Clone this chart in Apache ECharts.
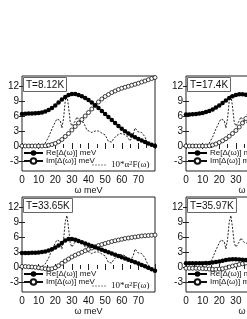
<!DOCTYPE html>
<html><head><meta charset="utf-8">
<script src="https://cdn.jsdelivr.net/npm/echarts@6/dist/echarts.min.js"></script>
<style>html,body{margin:0;padding:0;background:#fff}#c{width:247px;height:319px}</style>
</head><body><div id="c"></div>
<script>
// ---- data ----
const omegaFull = [0,2,4,6,8,10,12,14,16,18,20,22,24,26,28,30,32,34,36,38,40,42,44,46,48,50,52,54,56,58,60,62,64,66,68,70,72,74,76,78,80];
const omegaRight = [0,2,4,6,8,10,12,14,16,18,20,22,24,26,28,30,32,34,36,38,40];

const reT812 = [6.4,6.45,6.5,6.5,6.55,6.6,6.7,6.9,7.2,7.6,8.1,8.7,9.3,9.8,10.2,10.4,10.4,10.2,9.95,9.6,9.2,8.7,8.15,7.6,7.0,6.4,5.8,5.2,4.6,4.0,3.45,2.95,2.5,2.1,1.75,1.4,1.1,0.8,0.5,0.25,0.0];
const imT812 = [0,0,0,0,0,0,0,0.05,0.15,0.3,0.5,0.85,1.3,1.9,2.5,3.2,3.9,4.6,5.3,6.0,6.7,7.4,8.1,8.8,9.4,9.9,10.3,10.7,11.0,11.3,11.55,11.75,11.95,12.15,12.35,12.55,12.8,13.0,13.25,13.5,13.7];

const reT174 = [6.3,6.3,6.35,6.4,6.5,6.6,6.8,7.0,7.3,7.7,8.1,8.6,9.1,9.6,9.95,10.2,10.35,10.35,10.25,10.05,9.8];
const imT174 = [0,0,0,0,0,0,0,0.05,0.2,0.4,0.7,1.05,1.45,1.95,2.5,3.1,3.8,4.6,5.5,6.3,7.0];

const reT3365 = [2.8,2.8,2.8,2.85,2.85,2.9,3.0,3.1,3.3,3.55,3.9,4.3,4.8,5.3,5.6,5.6,5.45,5.2,4.95,4.7,4.45,4.2,3.95,3.7,3.45,3.2,2.95,2.7,2.45,2.2,1.95,1.7,1.45,1.2,0.95,0.7,0.4,0.15,-0.15,-0.45,-0.75];
const imT3365 = [0.1,0.1,0.05,0.0,-0.05,-0.15,-0.25,-0.35,-0.4,-0.35,-0.15,0.25,0.75,1.2,1.6,2.0,2.35,2.65,2.95,3.25,3.55,3.8,4.05,4.3,4.5,4.7,4.9,5.1,5.25,5.4,5.55,5.7,5.8,5.9,6.0,6.1,6.2,6.25,6.3,6.35,6.4];

const reT3597 = [0.75,0.75,0.75,0.75,0.75,0.75,0.8,0.82,0.88,0.98,1.1,1.25,1.4,1.5,1.55,1.55,1.5,1.45,1.4,1.35,1.3];
const imT3597 = [-0.25,-0.25,-0.25,-0.25,-0.28,-0.32,-0.36,-0.4,-0.45,-0.45,-0.4,-0.35,-0.2,0.0,0.2,0.35,0.5,0.65,0.8,0.9,1.0];

const a2fOmega = [10,12,14,16,18,20,21,22,23,24,25,26,27,28,29,30,31,32,33,34,35,36,37,38,39,40,42,44,46,48,50,51,52,53,54,55,57,59,61,63,64,65,66,67,68,69,70,71,72,73,74,75,76,77];
const a2fValues = [0,0.1,0.6,1.8,3.4,4.8,5.4,5.6,5.1,3.6,5.5,9.0,10.3,7.8,4.8,4.0,4.3,5.0,5.8,5.4,4.9,5.0,4.7,4.0,3.2,2.8,2.7,3.0,3.0,2.6,2.2,1.6,0.9,0.5,0.8,1.4,2.1,2.5,2.4,2.0,1.5,1.0,1.3,2.4,3.6,3.4,2.8,2.5,2.7,2.4,1.8,1.0,0.4,0];

const xTickLabels = [0,10,20,30,40,50,60,70];
const yTickLabels = [-3,0,3,6,9,12];
const panelTitles = ['T=8.12K','T=17.4K','T=33.65K','T=35.97K'];
const nameRe = 'Re[Δ(ω)] meV';
const nameIm = 'Im[Δ(ω)] meV';
const nameA2F = '10*α2F(ω)';

// ---- layout ----
const panels = [
  {left:22, top:76, omega:omegaFull, re:reT812, im:imT812},
  {left:186, top:76, omega:omegaRight, re:reT174, im:imT174},
  {left:22, top:197, omega:omegaFull, re:reT3365, im:imT3365},
  {left:186, top:197, omega:omegaRight, re:reT3597, im:imT3597}
];
const W = 133, H = 95;
const font = 'Liberation Sans, Arial, sans-serif';
const ink = '#111';
const dashIcon = 'path://M0,0h4v1.4h-4z M6,0h4v1.4h-4z M12,0h4v1.4h-4z M18,0h4v1.4h-4z M24,0h4v1.4h-4z';

const pairs = (xs, ys) => xs.map((x, i) => [x, ys[i]]);

const grid = [], xAxis = [], yAxis = [], series = [], title = [], legend = [];
panels.forEach((p, i) => {
  grid.push({left:p.left, top:p.top, width:W, height:H, outerBoundsMode:'none', containLabel:false,
    show:true, borderColor:'#222', borderWidth:1, backgroundColor:'transparent'});
  xAxis.push({gridIndex:i, type:'value', min:0, max:80, interval:10, position:'bottom',
    axisLine:{show:false}, splitLine:{show:false},
    axisTick:{inside:true, length:3, lineStyle:{color:'#222'}},
    minorTick:{show:true, splitNumber:2, length:2, lineStyle:{color:'#222'}},
    axisLabel:{customValues:xTickLabels, fontSize:10, color:ink, margin:4, fontFamily:font},
    name:'ω meV', nameLocation:'middle', nameGap:15, nameTextStyle:{fontSize:9, color:ink, fontFamily:font}});
  xAxis.push({gridIndex:i, type:'value', min:0, max:80, interval:10, position:'top',
    axisLine:{show:false}, splitLine:{show:false}, axisLabel:{show:false},
    axisTick:{inside:true, length:3, lineStyle:{color:'#222'}},
    minorTick:{show:true, splitNumber:2, length:2, lineStyle:{color:'#222'}}});
  yAxis.push({gridIndex:i, type:'value', min:-5, max:14, position:'left',
    axisLine:{show:false}, splitLine:{show:false},
    axisTick:{inside:true, length:3, customValues:yTickLabels, lineStyle:{color:'#222'}},
    axisLabel:{customValues:yTickLabels, fontSize:10, color:ink, margin:3, fontFamily:font}});
  yAxis.push({gridIndex:i, type:'value', min:-5, max:14, position:'right',
    axisLine:{show:false}, splitLine:{show:false}, axisLabel:{show:false},
    axisTick:{inside:true, length:3, customValues:yTickLabels, lineStyle:{color:'#222'}}});

  series.push({type:'line', name:nameA2F, xAxisIndex:2*i, yAxisIndex:2*i,
    data:pairs(a2fOmega, a2fValues), symbol:'none', showSymbol:false,
    lineStyle:{type:[2,1.5], width:1, color:'#222'}, itemStyle:{color:'#222'}});
  series.push({type:'line', name:nameIm, xAxisIndex:2*i, yAxisIndex:2*i,
    data:pairs(p.omega, p.im), symbol:'circle', symbolSize:4, showSymbol:true,
    itemStyle:{color:'#fff', borderColor:'#111', borderWidth:0.8},
    lineStyle:{color:'#111', width:0.8}});
  series.push({type:'line', name:nameRe, xAxisIndex:2*i, yAxisIndex:2*i,
    data:pairs(p.omega, p.re), symbol:'circle', symbolSize:4.5, showSymbol:true,
    itemStyle:{color:'#000'}, lineStyle:{color:'#000', width:1.2}});

  title.push({text:panelTitles[i], left:p.left+1, top:p.top+1, padding:[3,3,2,3],
    borderWidth:1, borderColor:'#666', backgroundColor:'#fff',
    textStyle:{fontSize:10, fontWeight:'normal', color:ink, fontFamily:font}});
  legend.push({orient:'vertical', left:p.left+1, top:p.top+73, padding:0, itemGap:0,
    itemWidth:19, itemHeight:7, selectedMode:false, data:[nameRe, nameIm],
    textStyle:{fontSize:8, color:ink, fontFamily:font, padding:[0,0,0,-2], overflow:'none'}});
  legend.push({orient:'horizontal', left:p.left+70, top:p.top+84, padding:0,
    itemWidth:14, itemHeight:1.4, selectedMode:false,
    data:[{name:nameA2F, icon:dashIcon, itemStyle:{color:'#111'}}],
    formatter:() => '10*α{s|2}F(ω)',
    textStyle:{fontSize:9, color:ink, fontFamily:'Liberation Serif, Times New Roman, serif', overflow:'none',
      rich:{s:{fontSize:6.5, verticalAlign:'top', padding:[0,0,3,0], fontFamily:'Liberation Serif, serif'}}}});
});

const chart = echarts.init(document.getElementById('c'), null, {renderer:'canvas'});
chart.setOption({animation:false, backgroundColor:'#fff', grid, xAxis, yAxis, series, title, legend});
</script>
</body></html>
